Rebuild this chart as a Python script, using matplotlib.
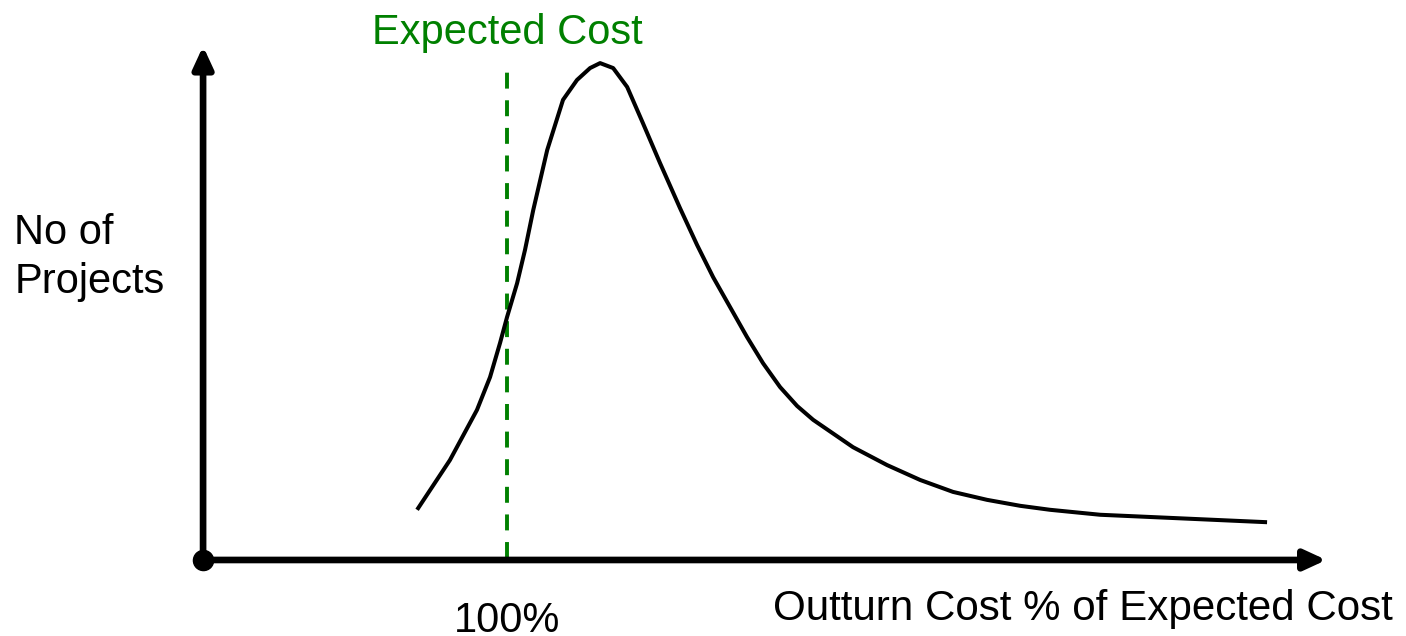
import numpy as np
import matplotlib
matplotlib.use("Agg")
from matplotlib import pyplot as plt

# curve: outturn cost (% of expected) vs relative no. of projects
cost_pct = [70.4, 81.2, 90.1, 94.4, 97.7, 100.0, 103.3, 105.9, 108.6, 113.2,
            118.4, 123.0, 127.3, 130.6, 134.9, 139.5, 144.7, 150.3, 156.9, 162.5,
            167.8, 178.9, 184.2, 189.8, 195.4, 200.7, 213.8, 225.0, 235.9, 246.7,
            257.9, 268.8, 278.6, 295.1, 317.1, 350.0]
projects = [10.1, 20.1, 30.2, 36.8, 43.7, 48.9, 55.7, 62.4, 70.4, 82.5,
            92.6, 96.6, 99.0, 100.0, 99.0, 95.2, 87.9, 79.9, 70.8, 63.4,
            56.9, 44.9, 39.6, 34.8, 31.0, 28.2, 22.7, 19.1, 16.1, 13.7,
            12.1, 10.9, 10.1, 9.1, 8.5, 7.6]
expected_pct = 100

plt.rcParams['font.family'] = ['Liberation Sans', 'DejaVu Sans']

fig = plt.figure(figsize=(14.06, 6.36), dpi=100)
ax = fig.add_axes([0, 0, 1, 1])
ax.set_xlim(-66.8, 395.7)
ax.set_ylim(-15.3, 112.7)
ax.axis('off')

green = '#008000'

# axes with arrows
arrow = dict(arrowstyle='-|>,head_width=0.6,head_length=1.3',
             lw=4.8, color='black', shrinkA=0, shrinkB=0)
ax.annotate('', xy=(0, 103.4), xytext=(0, 0), arrowprops=arrow)
ax.annotate('', xy=(369.5, 0), xytext=(0, 0), arrowprops=arrow)
ax.plot([0], [0], 'o', color='black', markersize=14.5)

# expected cost line
ax.plot([expected_pct, expected_pct], [0.4, 99.6], color=green, lw=2.8,
        dashes=(4.1, 3.0), dash_capstyle='butt')

ax.plot(cost_pct, projects, color='black', lw=2.9, solid_joinstyle='round',
        solid_capstyle='butt')

ax.text(expected_pct, 103.8, 'Expected Cost', color=green, fontsize=30,
        ha='center', va='baseline')
ax.text(-62.1, 63.6, 'No of', fontsize=30, ha='left', va='baseline')
ax.text(-62.1, 53.7, 'Projects', fontsize=30, ha='left', va='baseline')
ax.text(expected_pct, -14.4, '100%', fontsize=30, ha='center', va='baseline')
ax.text(187.5, -12.1, 'Outturn Cost % of Expected Cost', fontsize=30.3,
        ha='left', va='baseline')

fig.savefig('out.png', dpi=100)
